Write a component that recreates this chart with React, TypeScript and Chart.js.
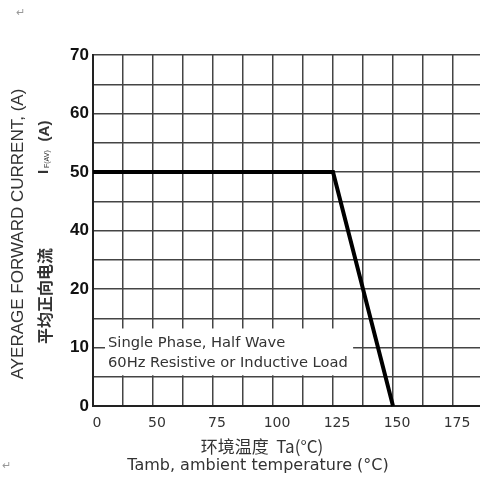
import React, { useEffect, useRef } from "react";
import { Chart, registerables } from "chart.js";
Chart.register(...registerables);

// Tick labels as printed on the original (non-uniform) axes
const xTickValues = [0, 50, 75, 100, 125, 150, 175];
const yTickValues = [0, 10, 20, 40, 50, 60, 70];
// Derating curve
const temperature = [0, 125, 150];
const current = [50, 50, 0];
// Texts
const noteLines = ["Single Phase, Half Wave", "60Hz Resistive or Inductive Load"];
const xTitleCn = "环境温度  Ta(°C)";
const xTitleEn = "Tamb, ambient temperature (°C)";
const yTitleEn = "AYERAGE FORWARD CURRENT, (A)";
const yTitleCn = "平均正向电流";

// map a value onto the axis position (each labelled tick is two grid cells apart)
function toAxis(v: number, ticks: number[]): number {
  for (let j = 0; j < ticks.length - 1; j++) {
    if (v >= ticks[j] && v <= ticks[j + 1]) {
      return 2 * (j + (v - ticks[j]) / (ticks[j + 1] - ticks[j]));
    }
  }
  return v < ticks[0] ? 0 : 2 * (ticks.length - 1);
}

const SANS = "'Liberation Sans', Arial, sans-serif";
const WIDE = "'DejaVu Sans', Verdana, sans-serif";
const CJK = "'Noto Sans CJK SC', sans-serif";

const textPlugin = {
  id: "texts",
  beforeDatasetsDraw(chart: any) {
    const { ctx, scales } = chart;
    const xs = scales.x;
    const ys = scales.y;
    const l = xs.getPixelForValue(0.4);
    const r = xs.getPixelForValue(8.67);
    const t = ys.getPixelForValue(2.65);
    const b = ys.getPixelForValue(1.05);
    ctx.save();
    ctx.fillStyle = "#fff";
    ctx.fillRect(l, t, r - l, b - t);
    ctx.fillStyle = "#333";
    ctx.font = `14.7px ${WIDE}`;
    ctx.textAlign = "left";
    ctx.textBaseline = "middle";
    ctx.fillText(noteLines[0], l + 3, t + 15);
    ctx.fillText(noteLines[1], l + 3, t + 35);
    ctx.restore();
  },
  afterDraw(chart: any) {
    const { ctx } = chart;
    ctx.save();
    ctx.fillStyle = "#333";
    ctx.textBaseline = "middle";
    ctx.textAlign = "center";
    // x titles
    ctx.font = `17px ${CJK}`;
    ctx.fillText(xTitleCn, 262, 447);
    ctx.font = `16px ${WIDE}`;
    ctx.fillText(xTitleEn, 258, 466);
    // y titles (rotated)
    const rot = (x: number, y: number, fn: () => void) => {
      ctx.save();
      ctx.translate(x, y);
      ctx.rotate(-Math.PI / 2);
      fn();
      ctx.restore();
    };
    rot(18, 234, () => {
      ctx.font = `17px ${SANS}`;
      ctx.fillText(yTitleEn, 0, 0);
    });
    rot(45, 296, () => {
      ctx.font = `bold 16px ${CJK}`;
      ctx.fillText(yTitleCn, 0, 0);
    });
    rot(44, 174, () => {
      ctx.font = `bold 15px ${SANS}`;
      ctx.textAlign = "left";
      ctx.fillText("I", 0, 0);
      ctx.font = `7px ${SANS}`;
      ctx.fillText("F(AV)", 6, 3);
    });
    rot(45, 131, () => {
      ctx.font = `bold 15px ${SANS}`;
      ctx.fillText("(A)", 0, 0);
    });
    // paragraph marks
    ctx.fillStyle = "#999";
    ctx.font = `11px ${SANS}`;
    ctx.fillText("↵", 20, 13);
    ctx.fillText("↵", 6, 466);
    ctx.restore();
  },
};

export default function App() {
  const ref = useRef<HTMLCanvasElement>(null);
  useEffect(() => {
    document.body.style.margin = "0";
    const points = temperature.map((t, i) => ({
      x: toAxis(t, xTickValues),
      y: toAxis(current[i], yTickValues),
    }));
    const gridCells = (n: number) => Array.from({ length: n + 1 }, (_, i) => ({ value: i }));
    const chart = new Chart(ref.current as HTMLCanvasElement, {
      type: "line",
      data: {
        datasets: [
          {
            data: points,
            borderColor: "#000",
            borderWidth: 4,
            pointRadius: 0,
            tension: 0,
            clip: false as any,
          },
        ],
      },
      options: {
        animation: false,
        responsive: false,
        devicePixelRatio: 1,
        layout: { padding: { top: 55, left: 0, right: 0, bottom: 0 } },
        plugins: { legend: { display: false }, tooltip: { enabled: false } },
        scales: {
          x: {
            type: "linear",
            min: 0,
            max: 12.9,
            afterFit: (s: any) => {
              s.height = 71;
            },
            afterBuildTicks: (s: any) => {
              s.ticks = gridCells(2 * (xTickValues.length - 1));
            },
            grid: { color: "#444", lineWidth: 1.5, drawTicks: false },
            border: { color: "#222", width: 2 },
            ticks: {
              autoSkip: false,
              maxRotation: 0,
              padding: 9,
              labelOffset: 4,
              color: "#333",
              font: { family: WIDE, size: 14 },
              callback: (v: any) => (v % 2 === 0 ? String(xTickValues[v / 2]) : ""),
            },
          },
          y: {
            type: "linear",
            min: 0,
            max: 12,
            afterFit: (s: any) => {
              s.width = 93;
            },
            afterBuildTicks: (s: any) => {
              s.ticks = gridCells(2 * (yTickValues.length - 1));
            },
            grid: { color: "#444", lineWidth: 1.5, drawTicks: false },
            border: { color: "#222", width: 2 },
            ticks: {
              autoSkip: false,
              padding: 4,
              color: "#111",
              font: { family: SANS, size: 17, weight: "bold" },
              callback: (v: any) => (v % 2 === 0 ? String(yTickValues[v / 2]) : ""),
            },
          },
        },
      },
      plugins: [textPlugin],
    });
    return () => chart.destroy();
  }, []);
  return <canvas ref={ref} width={480} height={477} style={{ display: "block" }} />;
}
